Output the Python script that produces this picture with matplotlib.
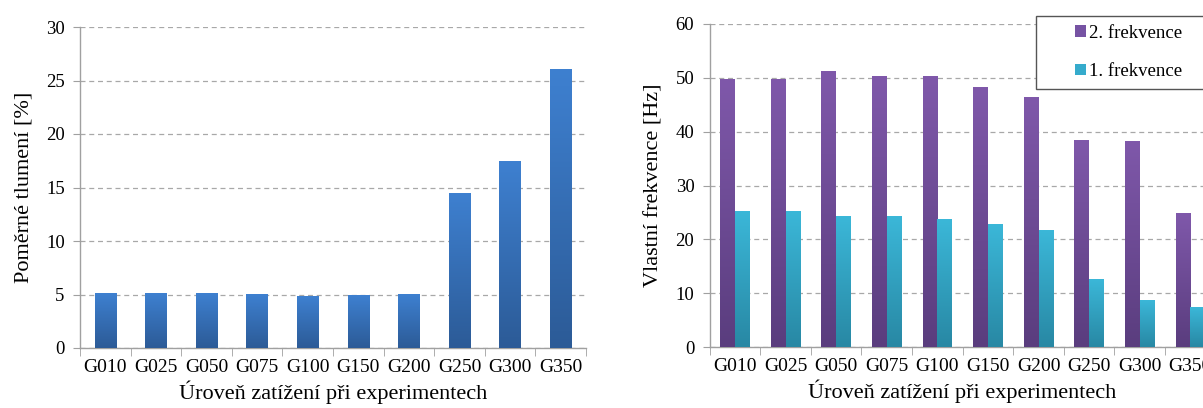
import numpy as np
import matplotlib
matplotlib.use('Agg')
import matplotlib.pyplot as plt
from matplotlib.colors import LinearSegmentedColormap
from matplotlib.patches import Patch, Rectangle

# === DATA ===
levels = ['G010', 'G025', 'G050', 'G075', 'G100', 'G150', 'G200', 'G250', 'G300', 'G350']
damping = [5.1, 5.1, 5.1, 5.0, 4.8, 4.9, 5.0, 14.45, 17.4, 26.0]
freq2 = [49.6, 49.6, 51.2, 50.2, 50.2, 48.2, 46.4, 38.3, 38.1, 24.8]
freq1 = [25.2, 25.2, 24.2, 24.2, 23.7, 22.8, 21.7, 12.5, 8.7, 7.3]

plt.rcParams['font.family'] = ['Liberation Serif', 'DejaVu Serif']

W, H = 1203, 408
fig = plt.figure(figsize=(W / 100, H / 100), dpi=100)


def grad_bars(ax, x, heights, width, top, bottom):
    cmap = LinearSegmentedColormap.from_list('g', [bottom, top])
    grad = np.linspace(0, 1, 100).reshape(-1, 1)
    for xi, h in zip(x, heights):
        ax.imshow(grad, extent=[xi - width / 2, xi + width / 2, 0, h],
                  origin='lower', aspect='auto', cmap=cmap, zorder=3)


def style_axes(ax, ymax, ystep, ylabel):
    n = len(levels)
    ax.set_xlim(0, n)
    ax.set_ylim(0, ymax)
    ax.set_xticks(np.arange(n) + 0.5)
    ax.set_xticklabels(levels, fontsize=14)
    ax.set_xticks(np.arange(n + 1), minor=True)
    ax.tick_params(axis='x', which='major', length=0, pad=8)
    ax.tick_params(axis='x', which='minor', length=6, color='#a0a0a0', direction='out')
    ax.set_yticks(np.arange(0, ymax + 1, ystep))
    ax.tick_params(axis='y', labelsize=13.5, length=5, color='#a0a0a0', pad=6)
    ax.yaxis.grid(True, linestyle=(0, (4, 3)), color='#a8a8a8', lw=0.9)
    ax.set_axisbelow(True)
    for s in ['top', 'right']:
        ax.spines[s].set_visible(False)
    for s in ['left', 'bottom']:
        ax.spines[s].set_color('#a0a0a0')
        ax.spines[s].set_linewidth(1.0)
    ax.set_xlabel('Úroveň zatížení při experimentech', fontsize=16, labelpad=3)
    ax.set_ylabel(ylabel, fontsize=16, labelpad=9)


# === LEFT: damping ===
ax1 = fig.add_axes([80 / W, 1 - 348 / H, 506 / W, 321 / H])
x = np.arange(len(levels)) + 0.5
grad_bars(ax1, x, damping, 0.42, '#3e80d0', '#2c5b97')
style_axes(ax1, 30, 5, 'Poměrné tlumení [%]')

# === RIGHT: frequencies ===
ax2 = fig.add_axes([709.6 / W, 1 - 347 / H, 506 / W, 323 / H])
bw = 0.29
grad_bars(ax2, x - bw / 2, freq2, bw, '#7f58aa', '#5a3d7e')
grad_bars(ax2, x + bw / 2, freq1, bw, '#3bb7d8', '#2888a4')
style_axes(ax2, 60, 10, 'Vlastní frekvence [Hz]')

# legend box (cut at the right edge like the original)
fig.patches.append(Rectangle((1036 / W, 1 - 89 / H), 200 / W, 73 / H,
                             transform=fig.transFigure, facecolor='white',
                             edgecolor='#555555', lw=1.0, zorder=5))
handles = [Patch(facecolor='#7653a3', edgecolor='none'),
           Patch(facecolor='#35abcc', edgecolor='none')]
fig.legend(handles, ['2. frekvence', '1. frekvence'], loc='center left',
           bbox_to_anchor=(1066 / W, 1 - 52.5 / H), bbox_transform=fig.transFigure,
           frameon=False, fontsize=13.5, handlelength=0.55, handleheight=0.55,
           handletextpad=0.2, labelspacing=1.15, borderpad=0)

fig.savefig('out.png', dpi=100)
